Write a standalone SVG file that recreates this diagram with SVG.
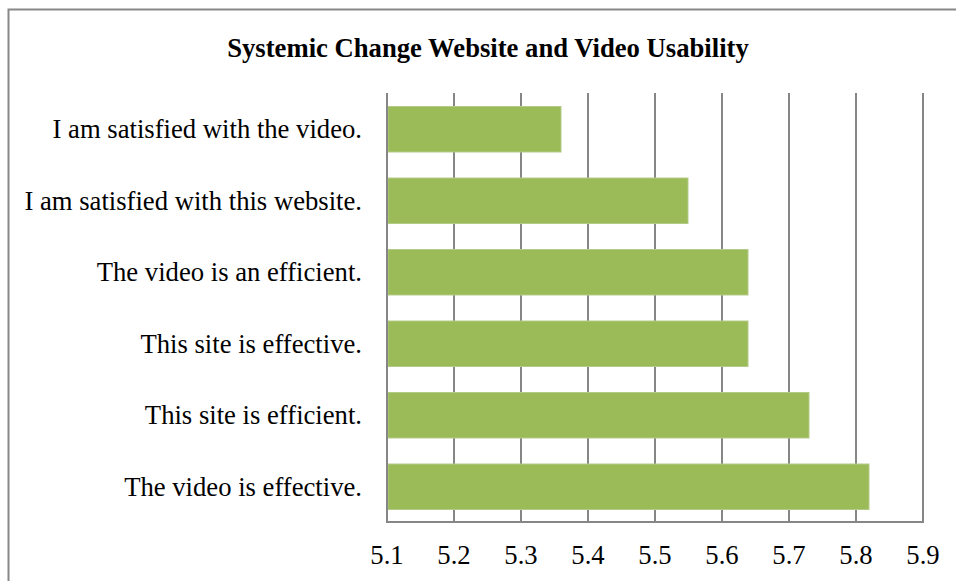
<svg xmlns="http://www.w3.org/2000/svg" width="956" height="581" viewBox="0 0 956 581">
<style>
.grid{stroke:#868686;stroke-width:2;fill:none}
.bar{fill:#9BBB59;stroke:#b4cb88;stroke-width:1}
.cat{font-family:"Liberation Serif","Times New Roman",serif;font-size:26.67px;fill:#000;text-anchor:end}
.tick{font-family:"Liberation Serif","Times New Roman",serif;font-size:26.67px;fill:#000;text-anchor:middle}
.title{font-family:"Liberation Serif","Times New Roman",serif;font-size:26.67px;font-weight:bold;fill:#000;text-anchor:middle}
</style>
<rect x="0" y="0" width="956" height="581" fill="#fff"/>
<rect x="8.5" y="9.5" width="980" height="600" fill="#fff" stroke="#888" stroke-width="2"/>
<text class="title" x="488" y="57">Systemic Change Website and Video Usability</text>
<g id="gridlines">
<line class="grid" x1="454" y1="93" x2="454" y2="522"/>
<line class="grid" x1="521" y1="93" x2="521" y2="522"/>
<line class="grid" x1="588" y1="93" x2="588" y2="522"/>
<line class="grid" x1="655" y1="93" x2="655" y2="522"/>
<line class="grid" x1="722" y1="93" x2="722" y2="522"/>
<line class="grid" x1="789" y1="93" x2="789" y2="522"/>
<line class="grid" x1="856" y1="93" x2="856" y2="522"/>
<line class="grid" x1="923" y1="93" x2="923" y2="522"/>
</g>
<g id="bars">
<rect class="bar" x="388" y="106.5" width="173" height="45.5"/>
<rect class="bar" x="388" y="178" width="300" height="45.5"/>
<rect class="bar" x="388" y="249.5" width="360" height="45.5"/>
<rect class="bar" x="388" y="321" width="360" height="45.5"/>
<rect class="bar" x="388" y="392.5" width="421" height="45.5"/>
<rect class="bar" x="388" y="464" width="481" height="45.5"/>
</g>
<g id="axes">
<line class="grid" x1="387" y1="93" x2="387" y2="522"/>
<line class="grid" x1="386" y1="522" x2="924" y2="522"/>
</g>
<g id="category-labels">
<text class="cat" x="362" y="138">I am satisfied with the video.</text>
<text class="cat" x="362" y="209.5">I am satisfied with this website.</text>
<text class="cat" x="362" y="281">The video is an efficient.</text>
<text class="cat" x="362" y="352.5">This site is effective.</text>
<text class="cat" x="362" y="424">This site is efficient.</text>
<text class="cat" x="362" y="495.5">The video is effective.</text>
</g>
<g id="value-labels">
<text class="tick" x="387" y="564">5.1</text>
<text class="tick" x="454" y="564">5.2</text>
<text class="tick" x="521" y="564">5.3</text>
<text class="tick" x="588" y="564">5.4</text>
<text class="tick" x="655" y="564">5.5</text>
<text class="tick" x="722" y="564">5.6</text>
<text class="tick" x="789" y="564">5.7</text>
<text class="tick" x="856" y="564">5.8</text>
<text class="tick" x="923" y="564">5.9</text>
</g>
</svg>
